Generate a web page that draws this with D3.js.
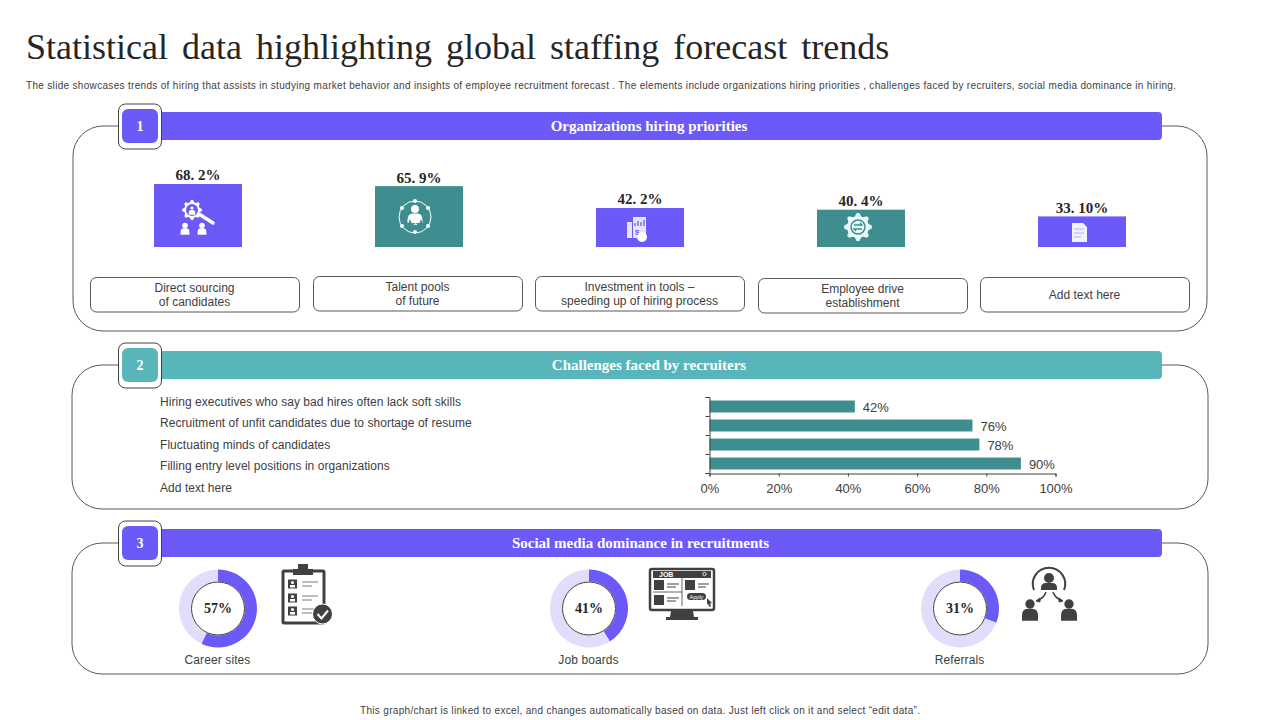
<!DOCTYPE html>
<html>
<head>
<meta charset="utf-8">
<script src="https://cdn.jsdelivr.net/npm/d3@7"></script>
<style>
  html, body { margin: 0; padding: 0; background: #fff; }
  svg { display: block; }
  text { font-family: "Liberation Sans", sans-serif; fill: #404040; }
  .serif { font-family: "Liberation Serif", serif; }
</style>
</head>
<body>
<svg id="chart" width="1280" height="720"></svg>
<script>
// hiring priorities
var priorityNames = [["Direct sourcing", "of candidates"], ["Talent pools", "of future"], ["Investment in tools –", "speeding up of hiring process"], ["Employee drive", "establishment"], ["Add text here"]];
var priorityValues = [68.2, 65.9, 42.2, 40.4, 33.1];
var priorityLabels = ["68. 2%", "65. 9%", "42. 2%", "40. 4%", "33. 10%"];

// recruiter challenges
var challengeNames = ["Hiring executives who say bad hires often lack soft skills", "Recruitment of unfit candidates due to shortage of resume", "Fluctuating minds of candidates", "Filling entry level positions in organizations", "Add text here"];
var challengeValues = [42, 76, 78, 90];
var challengeTicks = [0, 20, 40, 60, 80, 100];

// social media
var mediaNames = ["Career sites", "Job boards", "Referrals"];
var mediaValues = [57, 41, 31];

var headers = ["Organizations hiring priorities", "Challenges faced by recruiters", "Social media dominance in recruitments"];

var purple = "#6c5af8", teal = "#3e8e90", lightTeal = "#58b5ba", track = "#e0defa", dark = "#404040";
var svg = d3.select("#chart");

svg.append("text").attr("class", "serif").attr("x", 26).attr("y", 59)
  .attr("font-size", 36).attr("word-spacing", 5).style("fill", "#262626")
  .text("Statistical data highlighting global staffing forecast trends");

svg.append("text").attr("x", 26).attr("y", 89).attr("font-size", 10).attr("textLength", 1150)
  .text("The slide showcases trends of hiring that assists in studying market behavior and insights of employee recruitment forecast . The elements include organizations hiring priorities , challenges faced by recruiters, social media dominance in hiring.");

svg.append("text").attr("x", 360).attr("y", 714).attr("font-size", 10).attr("textLength", 560)
  .text("This graph/chart is linked to excel, and changes automatically based on data. Just left click on it and select “edit data”.");

// panels and header bars
var panels = [
  { x: 73, y: 126, w: 1134, h: 205, bar: 112, color: purple, tx: 649 },
  { x: 72, y: 365, w: 1136, h: 144, bar: 351, color: lightTeal, tx: 649 },
  { x: 72, y: 543, w: 1136, h: 131, bar: 529, color: purple, tx: 640.5 }
];
panels.forEach(function (p, i) {
  svg.append("rect").attr("x", p.x).attr("y", p.y).attr("width", p.w).attr("height", p.h)
    .attr("rx", 30).attr("fill", "none").attr("stroke", "#595959");
  svg.append("rect").attr("x", 140).attr("y", p.bar).attr("width", 1022).attr("height", 28)
    .attr("rx", 4).attr("fill", p.color);
  svg.append("text").attr("class", "serif").attr("x", p.tx).attr("y", p.bar + 19).attr("text-anchor", "middle")
    .attr("font-size", 15).attr("font-weight", "bold").style("fill", "#fff").text(headers[i]);
  svg.append("rect").attr("x", 118.5).attr("y", p.bar - 8).attr("width", 43).attr("height", 45)
    .attr("rx", 7).attr("fill", "#fff").attr("stroke", dark);
  svg.append("rect").attr("x", 122).attr("y", p.bar - 3).attr("width", 36).attr("height", 34)
    .attr("rx", 6).attr("fill", p.color);
  svg.append("text").attr("class", "serif").attr("x", 140).attr("y", p.bar + 19).attr("text-anchor", "middle")
    .attr("font-size", 14).attr("font-weight", "bold").style("fill", "#fff").text(i + 1);
});

// section 1: column bars
var px = d3.scalePoint().domain(d3.range(priorityValues.length)).range([87.5, 1192.5]).padding(0.5);
var py = d3.scaleLinear().domain([0, 68.2]).range([247, 184]);
var barW = 88;

svg.selectAll(".pbar").data(priorityValues).enter().append("rect").attr("class", "pbar")
  .attr("x", function (d, i) { return px(i) - barW / 2; })
  .attr("y", function (d) { return py(d); })
  .attr("width", barW)
  .attr("height", function (d) { return py(0) - py(d); })
  .attr("fill", function (d, i) { return i % 2 ? teal : purple; });

svg.selectAll(".plabel").data(priorityValues).enter().append("text").attr("class", "plabel serif")
  .attr("x", function (d, i) { return px(i); })
  .attr("y", function (d) { return py(d) - 3.6; })
  .attr("text-anchor", "middle").attr("font-size", 15).attr("font-weight", "bold").style("fill", "#262626")
  .text(function (d, i) { return priorityLabels[i]; });

var boxX = [90, 313, 535, 758, 980], boxY = [277, 276, 276, 278, 277];
priorityNames.forEach(function (lines, i) {
  svg.append("rect").attr("x", boxX[i] + 0.5).attr("y", boxY[i] + 0.5).attr("width", 209).attr("height", 34.5)
    .attr("rx", 6).attr("fill", "#fff").attr("stroke", "#595959");
  lines.forEach(function (line, j) {
    svg.append("text").attr("x", boxX[i] + 104.5).attr("text-anchor", "middle").attr("font-size", 12)
      .attr("y", boxY[i] + 22 + (j - (lines.length - 1) / 2) * 14).text(line);
  });
});

// section 2: horizontal bars
challengeNames.forEach(function (name, i) {
  svg.append("text").attr("x", 160).attr("y", [406, 427, 449, 470, 492][i]).attr("font-size", 12)
    .style("letter-spacing", "0.05px").text(name);
});

var hx = d3.scaleLinear().domain([0, 100]).range([709.5, 1055.5]);
var hy = d3.scaleBand().domain(d3.range(challengeValues.length)).range([397, 473]).paddingInner(0.37).paddingOuter(0.185);
var hticks = d3.scaleLinear().domain([0, challengeValues.length]).range([397, 473]);

svg.selectAll(".hbar").data(challengeValues).enter().append("rect").attr("class", "hbar")
  .attr("x", hx(0)).attr("y", function (d, i) { return hy(i); })
  .attr("width", function (d) { return hx(d) - hx(0); }).attr("height", hy.bandwidth())
  .attr("fill", teal);

svg.selectAll(".hlabel").data(challengeValues).enter().append("text").attr("class", "hlabel")
  .attr("x", function (d) { return hx(d) + 8; })
  .attr("y", function (d, i) { return hy(i) + hy.bandwidth() / 2 + 5.5; })
  .attr("font-size", 13).text(function (d) { return d + "%"; });

var xAxis = svg.append("g").attr("transform", "translate(0,473.5)")
  .call(d3.axisBottom(hx).tickValues(challengeTicks).tickSize(3).tickPadding(7).tickFormat(function (d) { return d + "%"; }));
xAxis.selectAll("text").attr("font-size", 13).attr("font-family", "Liberation Sans").style("fill", dark);
var yAxis = svg.append("g").attr("transform", "translate(709.5,0)")
  .call(d3.axisLeft(hticks).ticks(challengeValues.length).tickSize(4).tickFormat(""));
svg.selectAll(".domain, .tick line").attr("stroke", dark);

// section 3: donuts
var pie = d3.pie().sort(null);
var arc = d3.arc().innerRadius(27).outerRadius(39);
var donutX = d3.scalePoint().domain(mediaNames).range([218, 960]);
var donutY = 608.5;

mediaNames.forEach(function (name, i) {
  var g = svg.append("g").attr("transform", "translate(" + donutX(name) + "," + donutY + ")");
  g.selectAll("path").data(pie([mediaValues[i], 100 - mediaValues[i]])).enter().append("path")
    .attr("d", arc).attr("fill", function (d, j) { return j === 0 ? purple : track; });
  g.append("circle").attr("r", 26.5).attr("fill", "#fff").attr("stroke", dark);
  g.append("text").attr("class", "serif").attr("y", 4.5).attr("text-anchor", "middle").attr("font-size", 14)
    .attr("font-weight", "bold").style("fill", "#262626").text(mediaValues[i] + "%");
  g.append("text").attr("x", -0.5).attr("y", 55.5).attr("text-anchor", "middle").attr("font-size", 12)
    .style("letter-spacing", "0.1px").text(name);
});

// icon helpers
function gearPath(cx, cy, r, teeth) {
  var pts = [], n = teeth * 4;
  for (var k = 0; k < n; k++) {
    var a = (k - 0.5) / n * 2 * Math.PI;
    var rr = (k % 4 < 2) ? r : r * 0.78;
    pts.push([cx + rr * Math.cos(a), cy + rr * Math.sin(a)]);
  }
  return d3.line()(pts) + "Z";
}
function person(g, x, y, s, color, head) {
  g.append("circle").attr("cx", x).attr("cy", y).attr("r", head || s * 0.5).attr("fill", color);
  g.append("path").attr("fill", color)
    .attr("d", "M" + (x - s) + "," + (y + s * 2.1) + "v" + (-s * 0.6) + "q0,-" + s * 0.9 + " " + s * 0.7 + ",-" + s * 0.9
      + "h" + s * 0.6 + "q" + s * 0.7 + ",0 " + s * 0.7 + "," + s * 0.9 + "v" + s * 0.6 + "z");
}

// bar icons
var ic = svg.append("g");
ic.append("path").attr("d", gearPath(192, 210, 10, 8)).attr("fill", "#fff");
ic.append("circle").attr("cx", 192).attr("cy", 210).attr("r", 6).attr("fill", purple);
person(ic, 192, 208, 3.2, "#fff");
ic.append("line").attr("x1", 199).attr("y1", 214).attr("x2", 213).attr("y2", 223).attr("stroke", "#fff").attr("stroke-width", 3.5).attr("stroke-linecap", "round");
person(ic, 185, 225.5, 4.4, "#fff", 2.8);
person(ic, 202, 225.5, 4.4, "#fff", 2.8);

ic.append("circle").attr("cx", 415).attr("cy", 217).attr("r", 16).attr("fill", "none").attr("stroke", "#fff");
[[415, 201], [428, 208], [428, 226], [415, 232], [402, 226], [402, 208]].forEach(function (c) {
  ic.append("circle").attr("cx", c[0]).attr("cy", c[1]).attr("r", 2).attr("fill", "#fff");
});
person(ic, 415, 209, 7.5, "#fff", 4);
ic.append("path").attr("d", "M410,219l1.5,4h4l-3,2.5 1,4 -3.5,-2.5 -3.5,2.5 1,-4 -3,-2.5h4zM421,219l1.5,4h4l-3,2.5 1,4 -3.5,-2.5 -3.5,2.5 1,-4 -3,-2.5h4z").attr("fill", teal);

ic.append("rect").attr("x", 627).attr("y", 222).attr("width", 5).attr("height", 16).attr("fill", "#e6e4fd");
ic.append("rect").attr("x", 633).attr("y", 217).attr("width", 13).attr("height", 21).attr("fill", "#e6e4fd");
ic.append("path").attr("d", "M635,226v-3M638,226v-5M641,226v-4M644,226v-6").attr("stroke", purple).attr("stroke-width", 1.3);
ic.append("text").attr("x", 635).attr("y", 235).attr("font-size", 8).attr("font-weight", "bold").style("fill", purple).text("$");
ic.append("circle").attr("cx", 642).attr("cy", 237).attr("r", 5).attr("fill", "#fff");

ic.append("path").attr("d", gearPath(858, 227, 14, 8)).attr("fill", "#eafafa");
ic.append("circle").attr("cx", 858).attr("cy", 227).attr("r", 7).attr("fill", "none").attr("stroke", teal).attr("stroke-width", 1.5);
ic.append("path").attr("d", "M854,225h8l-2,-2M862,229h-8l2,2").attr("fill", "none").attr("stroke", teal).attr("stroke-width", 1.3);

ic.append("path").attr("d", "M1072,223h11l4,4v15h-15z").attr("fill", "#f2f1fe");
ic.append("path").attr("d", "M1074,229h10M1074,233h10M1074,237h7").attr("stroke", "#b5aefb").attr("stroke-width", 1);

// clipboard icon
var c1 = svg.append("g");
c1.append("rect").attr("x", 283).attr("y", 571).attr("width", 41).attr("height", 52).attr("rx", 1).attr("fill", "#fff").attr("stroke", dark).attr("stroke-width", 3);
c1.append("path").attr("d", "M293,575v-6h5v-5h10v5h5v6z").attr("fill", dark);
[584, 598, 611].forEach(function (y) {
  c1.append("rect").attr("x", 288).attr("y", y - 4.5).attr("width", 9).attr("height", 9).attr("fill", dark);
  c1.append("circle").attr("cx", 292.5).attr("cy", y - 1.5).attr("r", 1.6).attr("fill", "#fff");
  c1.append("path").attr("d", "M290," + (y + 3.5) + "h5v-2.5h-5z").attr("fill", "#fff");
  c1.append("path").attr("d", "M302,"+ (y - 2) +"h16M302,"+ (y + 2) +"h10").attr("stroke", "#7f7f7f").attr("stroke-width", 1.2);
});
c1.append("circle").attr("cx", 322.5).attr("cy", 614).attr("r", 10).attr("fill", dark).attr("stroke", "#fff");
c1.append("path").attr("d", "M317.5,614l4,4.5 6.5,-8").attr("fill", "none").attr("stroke", "#fff").attr("stroke-width", 2);

// monitor icon
var c2 = svg.append("g");
c2.append("rect").attr("x", 650).attr("y", 569).attr("width", 64).attr("height", 41).attr("rx", 2).attr("fill", "#fff").attr("stroke", dark).attr("stroke-width", 2.5);
c2.append("rect").attr("x", 653).attr("y", 571).attr("width", 58).attr("height", 7).attr("fill", dark);
c2.append("text").attr("x", 659).attr("y", 577).attr("font-size", 7).attr("font-weight", "bold").style("fill", "#fff").text("JOB");
c2.append("circle").attr("cx", 704.5).attr("cy", 574).attr("r", 1.7).attr("fill", "none").attr("stroke", "#fff").attr("stroke-width", 0.8);
c2.append("path").attr("d", "M682,606v-28M653,592h29").attr("stroke", dark).attr("stroke-width", 0.8);
c2.append("rect").attr("x", 654).attr("y", 580).attr("width", 10).attr("height", 10).attr("fill", dark);
c2.append("rect").attr("x", 654).attr("y", 595).attr("width", 10).attr("height", 10).attr("fill", dark);
c2.append("rect").attr("x", 685).attr("y", 580).attr("width", 10).attr("height", 10).attr("fill", dark);
c2.append("path").attr("d", "M667,584h12M667,587h9M667,598h12M667,601h9M698,584h11M698,587h8").attr("stroke", dark).attr("stroke-width", 1.1);
c2.append("rect").attr("x", 687).attr("y", 593).attr("width", 19).attr("height", 7).attr("rx", 3.5).attr("fill", dark);
c2.append("text").attr("x", 696.5).attr("y", 598.5).attr("text-anchor", "middle").attr("font-size", 5.5).style("fill", "#fff").text("Apply");
c2.append("path").attr("d", "M707,598l5,5 -2,0.5 1,3 -2,0 -1,-3 -1,1z").attr("fill", dark);
c2.append("path").attr("d", "M671,611h22l1,6h4v3h-32v-3h4z").attr("fill", dark);

// referral icon
var c3 = svg.append("g");
c3.append("path").attr("d", "M1034,590A16.2,16.2 0 1 1 1064,590").attr("fill", "none").attr("stroke", dark).attr("stroke-width", 2);
c3.append("circle").attr("cx", 1049).attr("cy", 578).attr("r", 5).attr("fill", dark);
c3.append("path").attr("d", "M1041,590v-2q0,-5 5,-5h6q5,0 5,5v2z").attr("fill", dark);
person(c3, 1030, 604, 8, dark, 4.7);
person(c3, 1069, 604, 8, dark, 4.7);
c3.append("path").attr("d", "M1046,592q-2,6 -8,8M1053,592q2,6 8,8").attr("fill", "none").attr("stroke", dark).attr("stroke-width", 1.5);
c3.append("path").attr("d", "M1036,601l4,-3 0,4zM1063,601l-4,-3 0,4z").attr("fill", dark).attr("stroke", dark);
</script>
</body>
</html>
